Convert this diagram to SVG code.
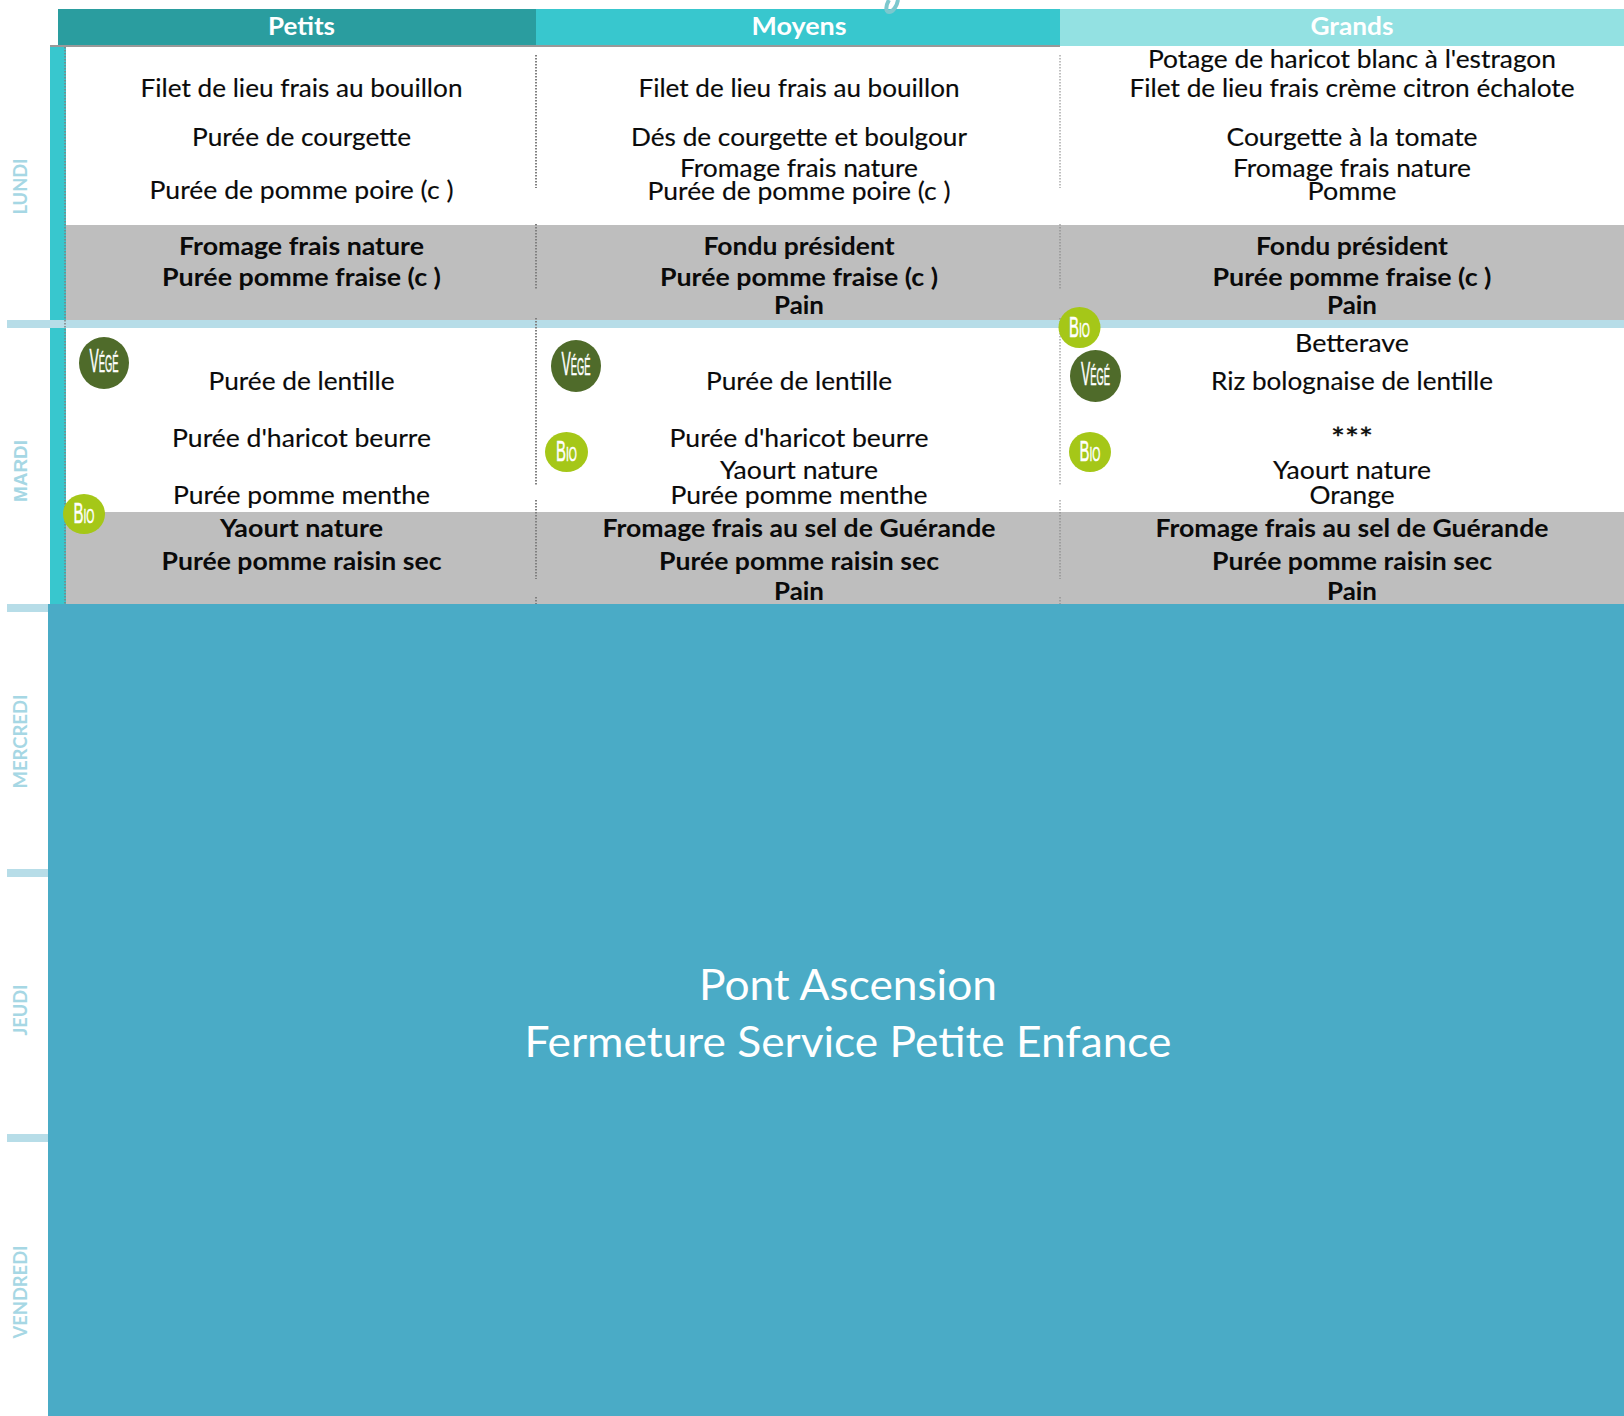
<svg xmlns="http://www.w3.org/2000/svg" width="1624" height="1416" viewBox="0 0 1624 1416">
<style>
text{font-family:Lato,"Open Sans","Liberation Sans",sans-serif}
.t{font-size:25px;fill:#0a0a0a;text-anchor:middle;stroke:#0a0a0a;stroke-width:.15px}
.b{font-size:25px;fill:#0a0a0a;text-anchor:middle;font-weight:700}
.h{font-size:25px;fill:#fff;text-anchor:middle;font-weight:700}
.d{font-size:19px;fill:#a6d7e4;text-anchor:middle;font-weight:700}
.p{font-size:42px;fill:#fff;text-anchor:middle}
.vg{fill:#4f6b2a}
.bi{fill:#a5c718}
.bt{fill:#fff;stroke:#fff;stroke-width:.5px;text-anchor:middle;font-family:"Liberation Sans Narrow","Liberation Sans",sans-serif}
.dot{stroke:#808080;fill:none;stroke-dasharray:1.5 1.5}
.band{fill:#b7dde8}
.gray{fill:#bebebe}
</style>
<rect width="1624" height="1416" fill="#fff"/>
<g id="grid">
<rect class="gray" x="66" y="225" width="1558" height="95"/>
<rect class="gray" x="66" y="512" width="1558" height="92"/>
<rect x="50" y="45" width="16" height="560" fill="#38c7ce"/>
<rect class="band" x="7" y="320" width="1617" height="8"/>
<rect class="band" x="7" y="604" width="42" height="8"/>
<rect class="band" x="7" y="869" width="42" height="8"/>
<rect class="band" x="7" y="1134" width="42" height="8"/>
<path class="dot" stroke-width="1.5" d="M65 47V604"/>
<path class="dot" stroke-width="2" d="M536 55V188M536 224V290M536 318V486M536 500V579M536 597V604"/>
<path class="dot" stroke-width="1" d="M1060 55V188M1060 224V290M1060 318V486M1060 500V579M1060 597V604"/>
<rect x="48" y="604" width="1576" height="812" fill="#4aabc6"/>
</g>
<g id="header">
<rect x="58" y="9" width="478" height="36" fill="#2a9d9f"/>
<rect x="536" y="9" width="524" height="36" fill="#38c7ce"/>
<rect x="1060" y="9" width="564" height="37" fill="#93e1e2"/>
<rect x="50" y="45" width="1010" height="2" fill="#999"/>
<path d="M898 0C897 6 893 12 889 12C885 12 886 5 889 0" fill="none" stroke="#7cc8ce" stroke-width="4"/>
<text class="h" x="301.5" y="35" textLength="67" lengthAdjust="spacingAndGlyphs">Petits</text>
<text class="h" x="799" y="35" textLength="95" lengthAdjust="spacingAndGlyphs">Moyens</text>
<text class="h" x="1352" y="35" textLength="83" lengthAdjust="spacingAndGlyphs">Grands</text>
</g>
<g id="days">
<text class="d" transform="translate(27 186.500) rotate(-90)" textLength="56" lengthAdjust="spacingAndGlyphs">LUNDI</text>
<text class="d" transform="translate(27 471) rotate(-90)" textLength="62" lengthAdjust="spacingAndGlyphs" style="font-family:'Liberation Sans',sans-serif">MARDI</text>
<text class="d" transform="translate(27 741.500) rotate(-90)" textLength="94" lengthAdjust="spacingAndGlyphs">MERCREDI</text>
<text class="d" transform="translate(27 1010) rotate(-90)" textLength="51" lengthAdjust="spacingAndGlyphs">JEUDI</text>
<text class="d" transform="translate(27 1292) rotate(-90)" textLength="93" lengthAdjust="spacingAndGlyphs">VENDREDI</text>
</g>
<g id="petits">
<text class="t" x="301.500" y="97" textLength="322" lengthAdjust="spacingAndGlyphs">Filet de lieu frais au bouillon</text>
<text class="t" x="301.500" y="146" textLength="219" lengthAdjust="spacingAndGlyphs">Purée de courgette</text>
<text class="t" x="301.500" y="199" textLength="304" lengthAdjust="spacingAndGlyphs">Purée de pomme poire (c )</text>
<text class="b" x="301.500" y="255" textLength="245" lengthAdjust="spacingAndGlyphs">Fromage frais nature</text>
<text class="b" x="301.500" y="286" textLength="279" lengthAdjust="spacingAndGlyphs">Purée pomme fraise (c )</text>
<text class="t" x="301.500" y="390" textLength="186" lengthAdjust="spacingAndGlyphs">Purée de lentille</text>
<text class="t" x="301.500" y="447" textLength="259" lengthAdjust="spacingAndGlyphs">Purée d'haricot beurre</text>
<text class="t" x="301.500" y="504" textLength="257" lengthAdjust="spacingAndGlyphs">Purée pomme menthe</text>
<text class="b" x="301.500" y="537" textLength="163" lengthAdjust="spacingAndGlyphs">Yaourt nature</text>
<text class="b" x="301.500" y="569.500" textLength="280" lengthAdjust="spacingAndGlyphs">Purée pomme raisin sec</text>
</g>
<g id="moyens">
<text class="t" x="799" y="97" textLength="321" lengthAdjust="spacingAndGlyphs">Filet de lieu frais au bouillon</text>
<text class="t" x="799" y="146" textLength="336" lengthAdjust="spacingAndGlyphs">Dés de courgette et boulgour</text>
<text class="t" x="799" y="177" textLength="238" lengthAdjust="spacingAndGlyphs">Fromage frais nature</text>
<text class="t" x="799" y="200" textLength="303" lengthAdjust="spacingAndGlyphs">Purée de pomme poire (c )</text>
<text class="b" x="799" y="255" textLength="191" lengthAdjust="spacingAndGlyphs">Fondu président</text>
<text class="b" x="799" y="286" textLength="278" lengthAdjust="spacingAndGlyphs">Purée pomme fraise (c )</text>
<text class="b" x="799" y="314" textLength="50" lengthAdjust="spacingAndGlyphs">Pain</text>
<text class="t" x="799" y="390" textLength="186" lengthAdjust="spacingAndGlyphs">Purée de lentille</text>
<text class="t" x="799" y="447" textLength="259" lengthAdjust="spacingAndGlyphs">Purée d'haricot beurre</text>
<text class="t" x="799" y="479" textLength="158" lengthAdjust="spacingAndGlyphs">Yaourt nature</text>
<text class="t" x="799" y="504" textLength="257" lengthAdjust="spacingAndGlyphs">Purée pomme menthe</text>
<text class="b" x="799" y="537" textLength="393" lengthAdjust="spacingAndGlyphs">Fromage frais au sel de Guérande</text>
<text class="b" x="799" y="569.500" textLength="280" lengthAdjust="spacingAndGlyphs">Purée pomme raisin sec</text>
<text class="b" x="799" y="599.500" textLength="50" lengthAdjust="spacingAndGlyphs">Pain</text>
</g>
<g id="grands">
<text class="t" x="1352" y="68" textLength="408" lengthAdjust="spacingAndGlyphs">Potage de haricot blanc à l'estragon</text>
<text class="t" x="1352" y="97" textLength="445" lengthAdjust="spacingAndGlyphs">Filet de lieu frais crème citron échalote</text>
<text class="t" x="1352" y="146" textLength="251" lengthAdjust="spacingAndGlyphs">Courgette à la tomate</text>
<text class="t" x="1352" y="177" textLength="238" lengthAdjust="spacingAndGlyphs">Fromage frais nature</text>
<text class="t" x="1352" y="200" textLength="89" lengthAdjust="spacingAndGlyphs">Pomme</text>
<text class="b" x="1352" y="255" textLength="192" lengthAdjust="spacingAndGlyphs">Fondu président</text>
<text class="b" x="1352" y="286" textLength="279" lengthAdjust="spacingAndGlyphs">Purée pomme fraise (c )</text>
<text class="b" x="1352" y="314" textLength="50" lengthAdjust="spacingAndGlyphs">Pain</text>
<text class="t" x="1352" y="352" textLength="114" lengthAdjust="spacingAndGlyphs">Betterave</text>
<text class="t" x="1352" y="390" textLength="282" lengthAdjust="spacingAndGlyphs">Riz bolognaise de lentille</text>
<text class="t" x="1352" y="449" textLength="42" lengthAdjust="spacingAndGlyphs" style="font-size:29px;stroke-width:.4px">***</text>
<text class="t" x="1352" y="479" textLength="158" lengthAdjust="spacingAndGlyphs">Yaourt nature</text>
<text class="t" x="1352" y="504" textLength="85" lengthAdjust="spacingAndGlyphs">Orange</text>
<text class="b" x="1352" y="537" textLength="393" lengthAdjust="spacingAndGlyphs">Fromage frais au sel de Guérande</text>
<text class="b" x="1352" y="569.500" textLength="280" lengthAdjust="spacingAndGlyphs">Purée pomme raisin sec</text>
<text class="b" x="1352" y="599.500" textLength="50" lengthAdjust="spacingAndGlyphs">Pain</text>
</g>
<g id="closure">
<text class="p" x="848" y="1000" textLength="298" lengthAdjust="spacingAndGlyphs">Pont Ascension</text>
<text class="p" x="848" y="1057" textLength="647" lengthAdjust="spacingAndGlyphs">Fermeture Service Petite Enfance</text>
</g>
<g id="vege-1" transform="translate(104 363)"><ellipse class="vg" rx="25" ry="26"/><text class="bt" y="9" textLength="29" lengthAdjust="spacingAndGlyphs"><tspan font-size="34">V</tspan><tspan font-size="23">ÉGÉ</tspan></text></g>
<g id="vege-2" transform="translate(576 366)"><ellipse class="vg" rx="25" ry="26"/><text class="bt" y="9" textLength="29" lengthAdjust="spacingAndGlyphs"><tspan font-size="34">V</tspan><tspan font-size="23">ÉGÉ</tspan></text></g>
<g id="vege-3" transform="translate(1095.500 376)"><ellipse class="vg" rx="25.500" ry="26"/><text class="bt" y="9" textLength="29" lengthAdjust="spacingAndGlyphs"><tspan font-size="34">V</tspan><tspan font-size="23">ÉGÉ</tspan></text></g>
<g id="bio-1" transform="translate(84 514)"><ellipse class="bi" rx="21" ry="20"/><text class="bt" y="9" textLength="21" lengthAdjust="spacingAndGlyphs"><tspan font-size="30">B</tspan><tspan font-size="21">IO</tspan></text></g>
<g id="bio-2" transform="translate(566.500 452)"><ellipse class="bi" rx="21.500" ry="20"/><text class="bt" y="9" textLength="21" lengthAdjust="spacingAndGlyphs"><tspan font-size="30">B</tspan><tspan font-size="21">IO</tspan></text></g>
<g id="bio-3" transform="translate(1090 452)"><ellipse class="bi" rx="21" ry="20"/><text class="bt" y="9" textLength="21" lengthAdjust="spacingAndGlyphs"><tspan font-size="30">B</tspan><tspan font-size="21">IO</tspan></text></g>
<g id="bio-4" transform="translate(1079.500 327.500)"><ellipse class="bi" rx="21" ry="20.500"/><text class="bt" y="9" textLength="21" lengthAdjust="spacingAndGlyphs"><tspan font-size="30">B</tspan><tspan font-size="21">IO</tspan></text></g>
</svg>
